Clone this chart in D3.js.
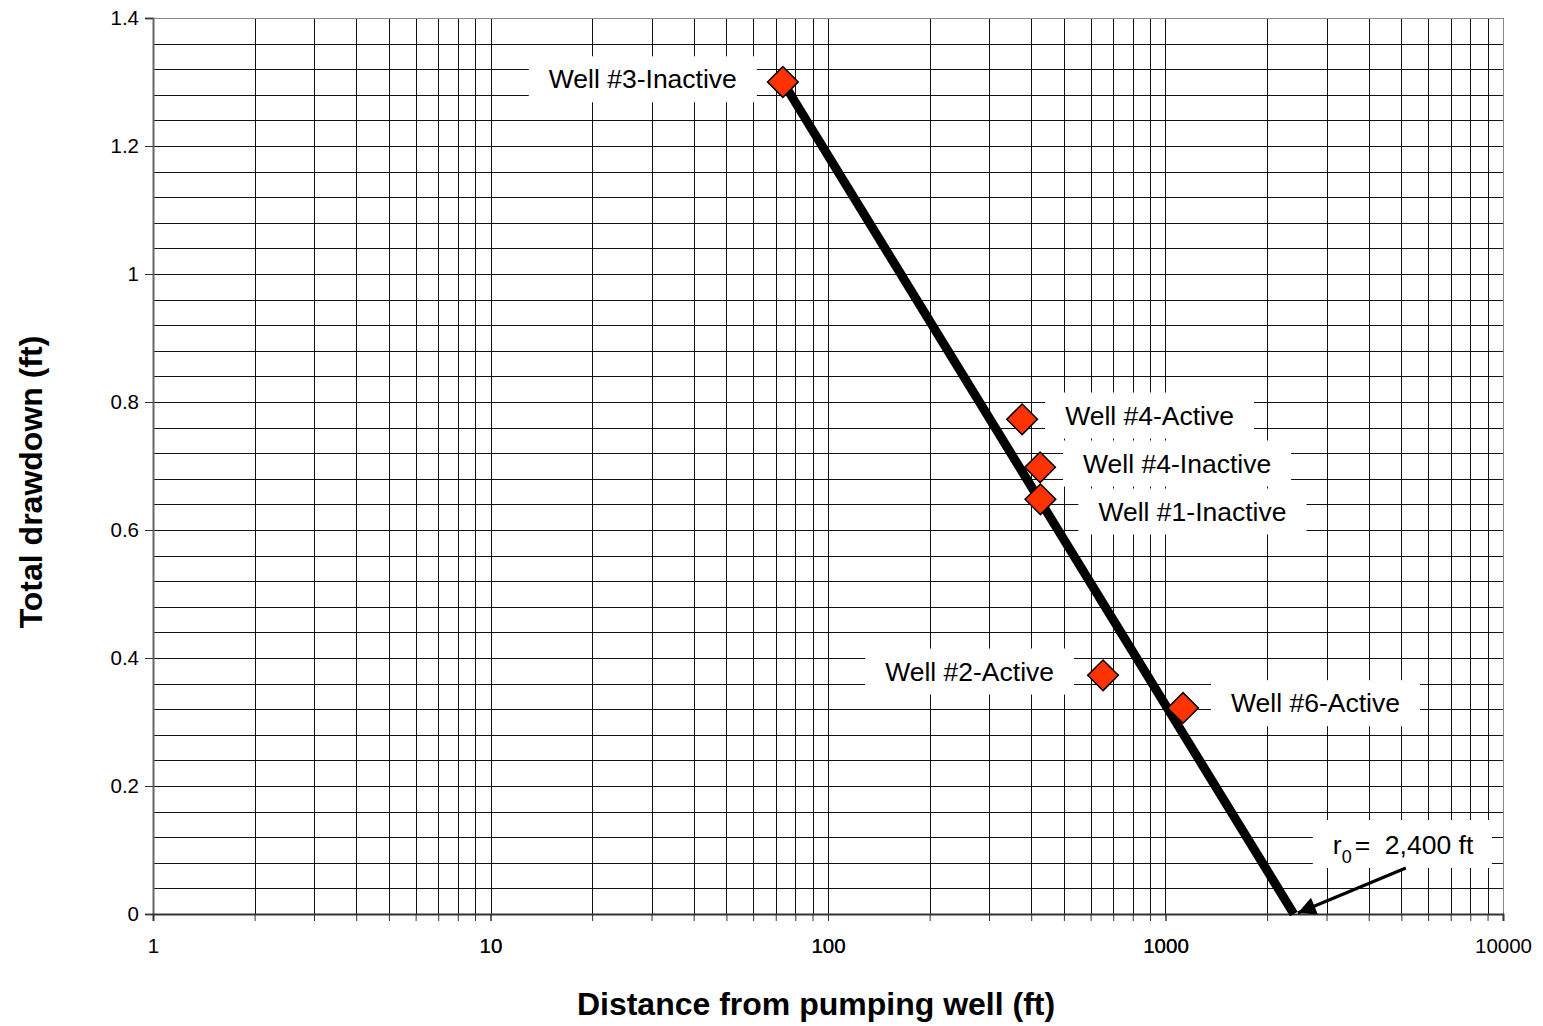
<!DOCTYPE html>
<html>
<head>
<meta charset="utf-8">
<script src="https://cdn.jsdelivr.net/npm/d3@7"></script>
<style>
	body { margin: 0; background: #fff; }
	svg { font-family: "Liberation Sans", Arial, sans-serif; }
</style>
</head>
<body>
<div id="container"></div>
<script>
// wells: distance (ft) and drawdown (ft)
var wellNames = ["Well #3-Inactive", "Well #4-Active", "Well #4-Inactive", "Well #1-Inactive", "Well #2-Active", "Well #6-Active"]
var wellDistance = [73.5, 376, 425, 426, 653, 1127]
var wellDrawdown = [1.30, 0.773, 0.698, 0.648, 0.373, 0.322]

// fitted line: from well #3 to radius of influence
var lineDistance = [73.5, 2400]
var lineDrawdown = [1.30, 0]

var xTicks = [1, 10, 100, 1000, 10000]
var yTicks = [0, 0.2, 0.4, 0.6, 0.8, 1, 1.2, 1.4]
var roLabel = "2,400 ft"

;(function () {
	var w = 1543
	var h = 1026
	var b = { left: 153, right: 1503, top: 18, bottom: 914 }

	var svg = d3.select("#container").append("svg")
		.attr("width", w)
		.attr("height", h)

	var x = d3.scaleLog().domain([1, 10000]).range([b.left, b.right])
	var y = d3.scaleLinear().domain([0, 1.4]).range([b.bottom, b.top])

	// minor grid values
	var xGrid = []
	for (var e = 0; e < 4; e++) {
		for (var m = 1; m <= 10; m++) xGrid.push(m * Math.pow(10, e))
	}
	var yGrid = d3.range(0, 36).map(i => +(i * 0.04).toFixed(2))

	var grid = svg.append("g")
	grid.selectAll(".hg").data(yGrid).enter().append("line")
		.attr("x1", b.left).attr("x2", b.right)
		.attr("y1", d => Math.round(y(d)) + 0.5).attr("y2", d => Math.round(y(d)) + 0.5)
		.attr("stroke", "#111").attr("stroke-width", 1)
	grid.selectAll(".vg").data(xGrid).enter().append("line")
		.attr("y1", b.top).attr("y2", b.bottom)
		.attr("x1", d => Math.round(x(d)) + 0.5).attr("x2", d => Math.round(x(d)) + 0.5)
		.attr("stroke", "#111").attr("stroke-width", 1)

	// frame
	svg.append("rect")
		.attr("x", b.left + 0.5).attr("y", b.top + 0.5)
		.attr("width", b.right - b.left).attr("height", b.bottom - b.top)
		.attr("fill", "none").attr("stroke", "#888").attr("stroke-width", 1)

	// y axis
	var yAxis = d3.axisLeft(y).tickValues(yTicks).tickSize(8).tickPadding(6)
		.tickFormat(d => d3.format("")(+d.toFixed(1)))
	var gy = svg.append("g").attr("transform", "translate(" + (b.left) + ",0)").call(yAxis)
	gy.select(".domain").attr("stroke", "#666").attr("stroke-width", 2)
	gy.selectAll(".tick line").attr("stroke", "#333")
	gy.selectAll("text").attr("font-size", 20.5).attr("fill", "#000")
		.attr("font-family", "Liberation Sans, Arial, sans-serif")

	// x axis
	var xAxis = d3.axisBottom(x).tickValues(xGrid).tickSize(7).tickPadding(17)
		.tickFormat(d => xTicks.indexOf(d) >= 0 ? d : "")
	var gx = svg.append("g").attr("transform", "translate(0," + b.bottom + ")").call(xAxis)
	gx.select(".domain").attr("stroke", "#333").attr("stroke-width", 2)
	gx.selectAll(".tick line").attr("stroke", "#333")
	gx.selectAll("text").attr("font-size", 20.5).attr("fill", "#000")
		.attr("font-family", "Liberation Sans, Arial, sans-serif")

	// axis titles
	svg.append("text")
		.attr("x", 816).attr("y", 1015)
		.attr("text-anchor", "middle").attr("font-size", 32).attr("font-weight", "bold")
		.text("Distance from pumping well (ft)")
	svg.append("text")
		.attr("transform", "translate(42,482) rotate(-90)")
		.attr("text-anchor", "middle").attr("font-size", 32).attr("font-weight", "bold")
		.text("Total drawdown (ft)")

	// label boxes (drawn over the grid)
	var labelPos = [
		{ anchor: "end", dx: -46, dy: -3 },
		{ anchor: "start", dx: 43, dy: -4 },
		{ anchor: "start", dx: 43, dy: -4 },
		{ anchor: "start", dx: 58, dy: 12 },
		{ anchor: "end", dx: -49, dy: -4 },
		{ anchor: "start", dx: 48, dy: -5 }
	]
	var wells = wellNames.map((n, i) => ({ name: n, d: wellDistance[i], s: wellDrawdown[i], pos: labelPos[i] }))

	var labels = svg.append("g")
	wells.forEach(wl => {
		var g = labels.append("g")
		var t = g.append("text")
			.attr("x", x(wl.d) + wl.pos.dx).attr("y", y(wl.s) + wl.pos.dy)
			.attr("dy", "0.35em")
			.attr("text-anchor", wl.pos.anchor)
			.attr("font-size", 26.5).attr("fill", "#000")
			.text(wl.name)
		var bb = t.node().getBBox()
		g.insert("rect", "text")
			.attr("x", bb.x - 20).attr("y", bb.y + bb.height / 2 - 23)
			.attr("width", bb.width + 40).attr("height", 46)
			.attr("fill", "#fff")
	})

	// r0 label
	var r0x = x(lineDistance[1]), r0y = y(lineDrawdown[1])
	var rg = svg.append("g")
	var rt = rg.append("text")
		.attr("x", r0x + 39).attr("y", r0y - 60)
		.attr("font-size", 26.5).attr("fill", "#000")
		.attr("xml:space", "preserve").style("white-space", "pre")
	rt.append("tspan").text("r")
	rt.append("tspan").attr("font-size", 18).attr("dy", 9).text("0")
	rt.append("tspan").attr("dy", -9).attr("dx", 3).text("=  " + roLabel)
	var rb = rt.node().getBBox()
	rg.insert("rect", "text")
		.attr("x", rb.x - 20).attr("y", r0y - 94)
		.attr("width", rb.width + 38).attr("height", 48)
		.attr("fill", "#fff")

	// fitted line
	var line = d3.line().x(d => x(d[0])).y(d => y(d[1]))
	svg.append("path")
		.datum(lineDistance.map((d, i) => [d, lineDrawdown[i]]))
		.attr("d", line)
		.attr("fill", "none").attr("stroke", "#000").attr("stroke-width", 9)

	// arrow to r0
	svg.append("defs").append("marker")
		.attr("id", "arrow").attr("viewBox", "0 0 10 10")
		.attr("refX", 10).attr("refY", 5)
		.attr("markerWidth", 7).attr("markerHeight", 6)
		.attr("orient", "auto").attr("markerUnits", "strokeWidth")
		.append("path").attr("d", "M0,0 L10,5 L0,10 z").attr("fill", "#000")
	svg.append("line")
		.attr("x1", r0x + 112).attr("y1", r0y - 46)
		.attr("x2", r0x + 4).attr("y2", r0y - 1)
		.attr("stroke", "#000").attr("stroke-width", 3)
		.attr("marker-end", "url(#arrow)")

	// markers
	svg.selectAll(".well")
		.data(wells)
		.enter()
		.append("path").attr("class", "well")
		.attr("d", d3.symbol().type(d3.symbolSquare).size(470)())
		.attr("transform", d => "translate(" + x(d.d) + "," + y(d.s) + ") rotate(45)")
		.attr("fill", "#ff3300").attr("stroke", "#000").attr("stroke-width", 1.5)
})()
</script>
</body>
</html>
